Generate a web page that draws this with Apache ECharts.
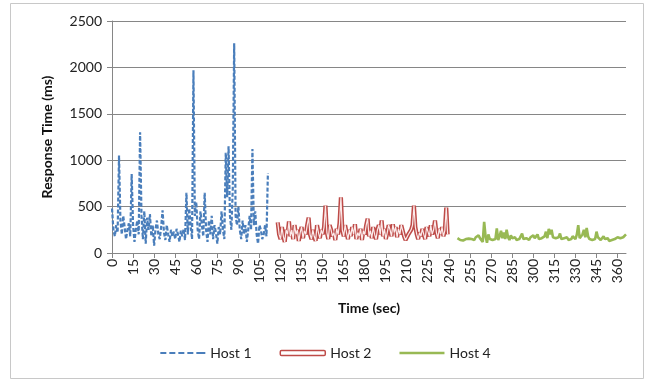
<!DOCTYPE html>
<html>
<head>
<meta charset="utf-8">
<title>Response Time by Host</title>
<script src="https://cdn.jsdelivr.net/npm/echarts@6/dist/echarts.min.js"></script>
<style>
  html, body { margin: 0; padding: 0; background: #fff; }
  #chart { width: 651px; height: 384px; }
</style>
</head>
<body>
<div id="chart"></div>
<script>
// Response time samples (ms), one per second, for each host run.
const host1Start = 0;
const host1Values = [
  480, 250, 180, 300, 220, 1050, 350, 200, 400, 280,
  150, 250, 320, 180, 850, 300, 120, 260, 350, 200,
  1300, 400, 150, 450, 100, 380, 250, 420, 180, 300,
  80, 260, 350, 200, 150, 280, 460, 220, 140, 300,
  200, 120, 250, 180, 230, 150, 260, 200, 120, 240,
  180, 260, 140, 650, 200, 480, 300, 150, 1970, 400,
  550, 250, 150, 450, 300, 180, 650, 250, 120, 350,
  200, 400, 150, 300, 220, 100, 280, 200, 450, 250,
  150, 1080, 600, 1150, 400, 250, 700, 2260, 400, 300,
  500, 250, 150, 350, 200, 300, 120, 250, 400, 250,
  1120, 300, 450, 200, 100, 300, 250, 150, 200, 300,
  180, 860
];

const host2Start = 118;
const host2Values = [
  330, 200, 150, 280, 180, 120, 250, 200, 340, 180,
  250, 150, 300, 200, 250, 130, 220, 280, 160, 240,
  200, 300, 380, 200, 150, 250, 180, 130, 300, 220,
  160, 250, 200, 280, 510, 220, 150, 300, 250, 180,
  220, 140, 260, 200, 320, 600, 250, 180, 300, 220,
  150, 250, 180, 280, 200, 310, 150, 220, 180, 260,
  140, 240, 200, 300, 370, 180, 240, 160, 280, 200,
  150, 250, 300, 200, 350, 180, 260, 150, 220, 300,
  250, 180, 310, 220, 280, 170, 260, 200, 300, 240,
  180, 140, 160, 200, 180, 250, 300, 510, 280, 200,
  150, 220, 180, 260, 200, 150, 280, 230, 180, 300,
  200, 250, 350, 220, 160, 260, 200, 280, 180, 240,
  490, 200
];

const host4Start = 246;
const host4Values = [
  160, 150, 140, 150, 135, 145, 150, 140, 155, 145,
  150, 160, 140, 170, 150, 190, 160, 140, 120, 335,
  180, 110, 200, 150, 170, 140, 160, 150, 265, 140,
  180, 240, 160, 220, 150, 250, 170, 140, 190, 160,
  150, 170, 140, 160, 150, 180, 210, 150, 140, 160,
  150, 140, 170, 150, 190, 160, 140, 200, 150, 140,
  160, 150, 180, 230, 160, 260, 200, 250, 170, 150,
  160, 140, 170, 210, 150, 140, 160, 150, 170, 140,
  160, 150, 180, 170, 150, 200, 300, 160, 150, 200,
  250, 170, 270, 180, 150, 170, 140, 160, 150, 230,
  170, 150, 140, 160, 180, 150, 140, 160, 130, 150,
  140, 160, 150, 140, 170, 150, 160, 180, 170, 190,
  200
];

const seriesNames = ['Host 1', 'Host 2', 'Host 4'];
const yTicks = { min: 0, max: 2500, interval: 500 };
const xTicks = { min: 0, max: 366, interval: 15 };

const colors = { host1: '#4A7EBB', host2: '#BE4B48', host4: '#98B954' };

function toPoints(start, values) {
  return values.map((v, i) => [start + i, v]);
}

// Legend glyphs: a dashed stroke and a plain stroke, drawn as filled paths
const dashedIcon = 'path://M0,0h6v2.2h-6z M9,0h6v2.2h-6z M18,0h6v2.2h-6z M27,0h6v2.2h-6z M36,0h6v2.2h-6z M42,0h3v2.2h-3z';
const solidIcon = 'path://M0,0h45v2.6h-45z';

const font = 'Lato, "Open Sans", sans-serif';
const chart = echarts.init(document.getElementById('chart'), null, { renderer: 'canvas' });

chart.setOption({
  animation: false,
  backgroundColor: '#fff',
  textStyle: { fontFamily: font },
  graphic: [{
    type: 'rect',
    shape: { x: 10.5, y: 3.5, width: 633, height: 375 },
    style: { fill: 'none', stroke: '#c8c8c8', lineWidth: 1 },
    silent: true
  }],
  grid: { left: 112, right: 25, top: 21, bottom: 131 },
  legend: {
    bottom: 19,
    left: 'center',
    itemWidth: 45,
    itemHeight: 5,
    itemGap: 28,
    textStyle: { fontSize: 14, color: '#222', fontFamily: font },
    data: [
      { name: seriesNames[0], icon: dashedIcon, itemStyle: { color: colors.host1 } },
      { name: seriesNames[1], icon: 'roundRect',
        itemStyle: { color: '#fff', borderColor: colors.host2, borderWidth: 1.5 } },
      { name: seriesNames[2], icon: solidIcon, itemStyle: { color: colors.host4 } }
    ]
  },
  xAxis: {
    type: 'value',
    min: xTicks.min,
    max: xTicks.max,
    interval: xTicks.interval,
    name: 'Time (sec)',
    nameLocation: 'middle',
    nameGap: 48,
    nameTextStyle: { fontSize: 14, fontWeight: 'bold', color: '#111', fontFamily: font },
    axisLine: { lineStyle: { color: '#868686', width: 1 } },
    axisTick: { show: true, length: 5, lineStyle: { color: '#868686' } },
    axisLabel: { rotate: 90, fontSize: 14, color: '#222', margin: 6, showMaxLabel: false, fontFamily: font },
    splitLine: { show: false }
  },
  yAxis: {
    type: 'value',
    min: yTicks.min,
    max: yTicks.max,
    interval: yTicks.interval,
    name: 'Response Time (ms)',
    nameLocation: 'middle',
    nameGap: 58,
    nameTextStyle: { fontSize: 14, fontWeight: 'bold', color: '#111', fontFamily: font },
    axisLine: { show: true, lineStyle: { color: '#868686', width: 1 } },
    axisTick: { show: true, length: 5, lineStyle: { color: '#868686' } },
    axisLabel: { fontSize: 14, color: '#222', margin: 10, fontFamily: font,
                 formatter: (v) => String(v) },
    splitLine: { show: true, lineStyle: { color: '#868686', width: 1 } }
  },
  series: [
    {
      name: seriesNames[0],
      type: 'line',
      symbol: 'none',
      data: toPoints(host1Start, host1Values),
      lineStyle: { color: colors.host1, width: 2.2, type: [4, 2] },
      itemStyle: { color: colors.host1 },
      z: 3
    },
    {
      name: seriesNames[1],
      type: 'line',
      symbol: 'none',
      data: toPoints(host2Start, host2Values),
      lineStyle: { color: colors.host2, width: 4.2 },
      itemStyle: { color: colors.host2 },
      z: 3
    },
    {
      // white core that turns the Host 2 stroke into a double line
      name: 'Host 2 core',
      type: 'line',
      symbol: 'none',
      data: toPoints(host2Start, host2Values),
      lineStyle: { color: '#fbeaea', width: 1.2 },
      itemStyle: { color: '#fbeaea' },
      z: 4
    },
    {
      name: seriesNames[2],
      type: 'line',
      symbol: 'none',
      data: toPoints(host4Start, host4Values),
      lineStyle: { color: colors.host4, width: 2.6 },
      itemStyle: { color: colors.host4 },
      z: 3
    }
  ]
});
</script>
</body>
</html>
